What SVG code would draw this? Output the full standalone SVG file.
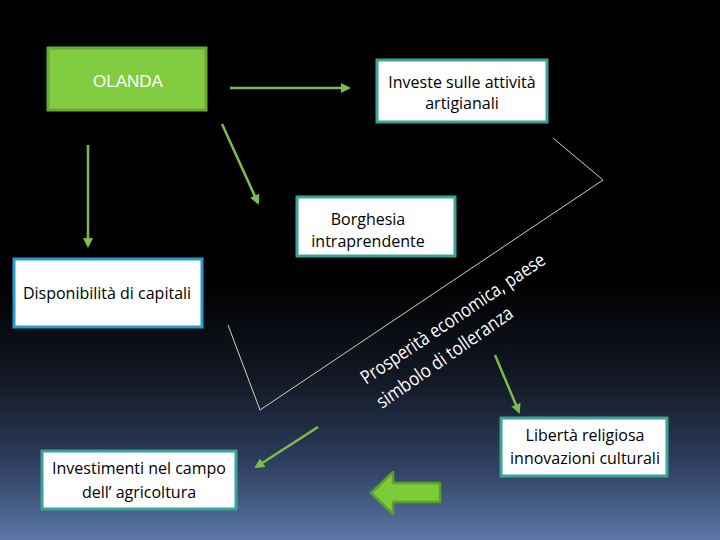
<svg xmlns="http://www.w3.org/2000/svg" width="720" height="540" viewBox="0 0 720 540">
<defs>
<linearGradient id="bg" x1="0" y1="0" x2="0" y2="1">
<stop offset="0" stop-color="#000"/>
<stop offset="0.52" stop-color="#000"/>
<stop offset="0.7" stop-color="#121824"/>
<stop offset="0.85" stop-color="#2c3c5c"/>
<stop offset="1" stop-color="#5a77a6"/>
</linearGradient>
<marker id="ah" viewBox="0 0 10 10" refX="8" refY="5" markerWidth="4" markerHeight="4" orient="auto">
<path d="M0,0 L10,5 L0,10 Z" fill="#7dbb4a"/>
</marker>
<style>
.box{fill:#fff;stroke:#3aa497;stroke-width:3}
.t{font-family:"Open Sans","Liberation Sans",sans-serif;font-size:16px;fill:#000;text-anchor:middle}
.conn{stroke:#7dbb4a;stroke-width:2.5;fill:none;marker-end:url(#ah)}
.rot{font-family:"Open Sans","Liberation Sans",sans-serif;font-size:19px;fill:#fff}
</style>
</defs>
<rect width="720" height="540" fill="url(#bg)"/>
<g id="olanda">
<rect x="48" y="48" width="158" height="62" fill="#82cc40" stroke="#6aa83a" stroke-width="3"/>
<text x="128" y="87" font-family="Liberation Sans,Arial,sans-serif" font-size="17" fill="#fff" text-anchor="middle">OLANDA</text>
</g>
<g id="investe">
<rect class="box" x="377" y="60" width="170" height="62"/>
<text class="t" x="462" y="88">Investe sulle attività</text>
<text class="t" x="462" y="109">artigianali</text>
</g>
<g id="borghesia">
<rect class="box" x="297" y="197" width="158" height="59"/>
<text class="t" x="368" y="225">Borghesia</text>
<text class="t" x="368" y="247">intraprendente</text>
</g>
<g id="disponibilita">
<rect x="14" y="259" width="188" height="68" fill="#fff" stroke="#2a9cc6" stroke-width="3"/>
<text class="t" x="107" y="299">Disponibilità di capitali</text>
</g>
<g id="liberta">
<rect class="box" x="501" y="418" width="166" height="58"/>
<text class="t" x="585" y="441">Libertà religiosa</text>
<text class="t" x="585" y="464">innovazioni culturali</text>
</g>
<g id="investimenti">
<rect class="box" x="42" y="451" width="194" height="58"/>
<text class="t" x="139" y="474">Investimenti nel campo</text>
<text class="t" x="139" y="498">dell’ agricoltura</text>
</g>
<g id="prosperita">
<text class="rot" transform="translate(366,385) rotate(-34)" textLength="218" lengthAdjust="spacingAndGlyphs">Prosperità economica, paese</text>
<text class="rot" transform="translate(382,409) rotate(-35)" textLength="162" lengthAdjust="spacingAndGlyphs">simbolo di tolleranza</text>
</g>
<g id="freccia">
<path d="M371,493 L393,472 L393,483 L440,483 L440,502 L393,502 L393,514 Z" fill="#7ccc3a" stroke="#5e9e2e" stroke-width="2.5" stroke-linejoin="round"/>
</g>
<g id="connectors">
<path d="M228,325 L260,410 L603,180 L553,138" fill="none" stroke="#c9d9ac" stroke-width="1"/>
<line class="conn" x1="230" y1="88" x2="349" y2="88"/>
<line class="conn" x1="222" y1="124" x2="258" y2="203"/>
<line class="conn" x1="88" y1="145" x2="88" y2="246"/>
<line class="conn" x1="495" y1="355" x2="519" y2="412"/>
<line class="conn" x1="318" y1="427" x2="256" y2="467"/>
</g>
</svg>
